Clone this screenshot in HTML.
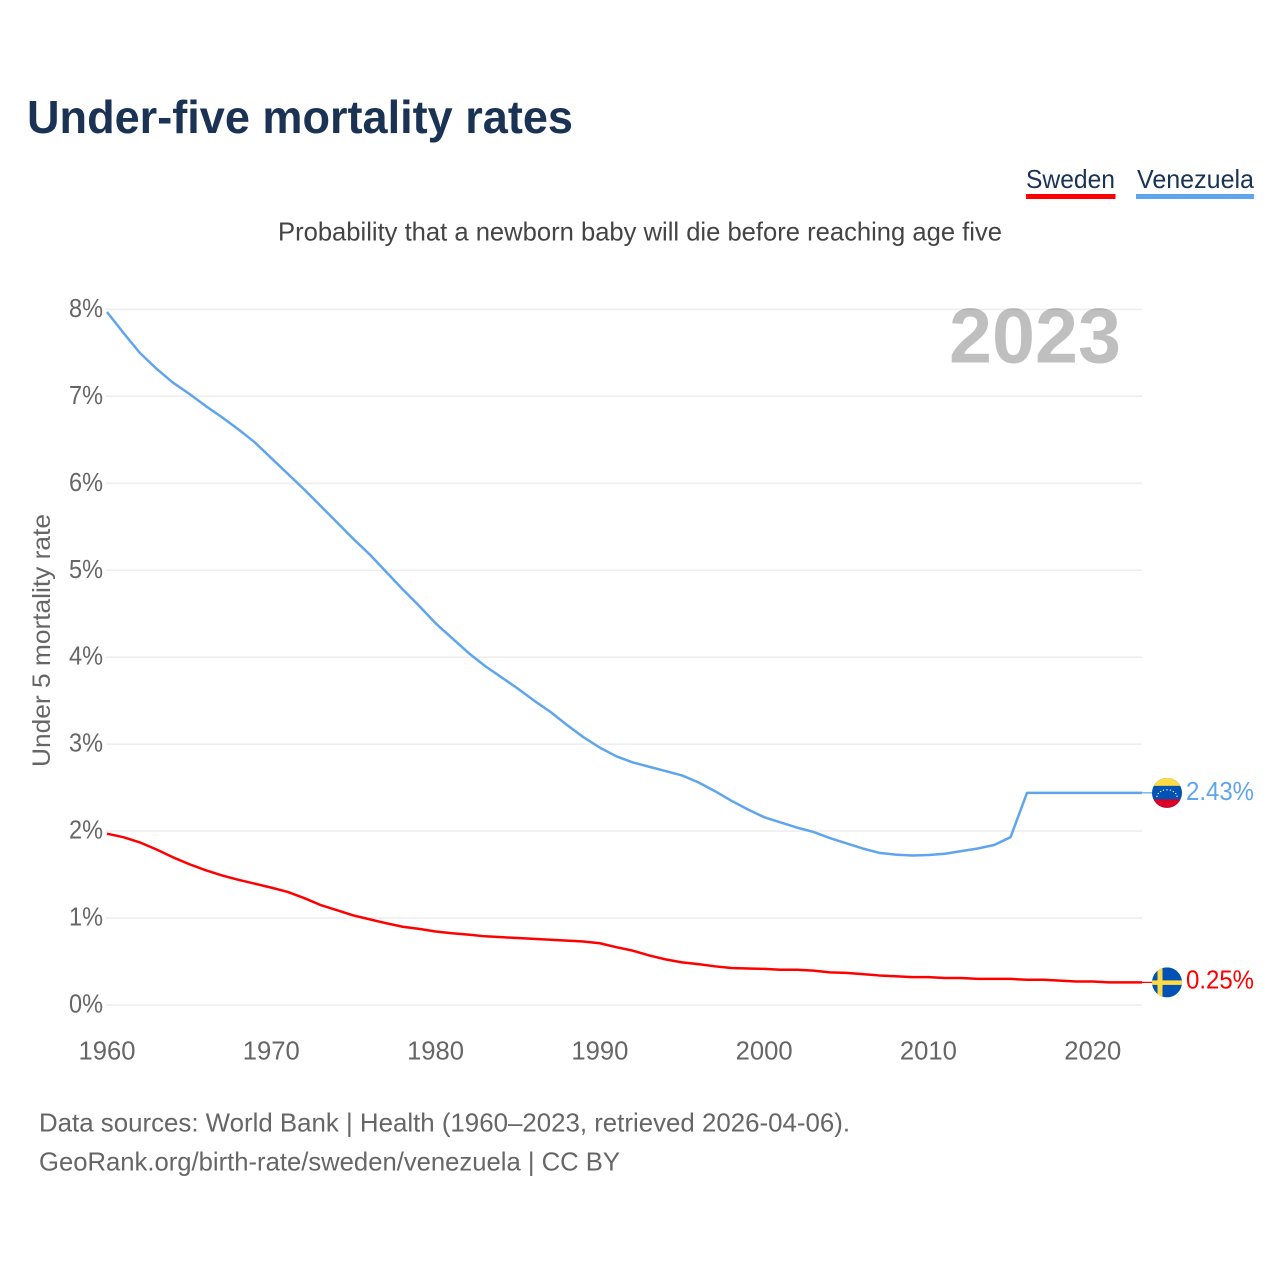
<!DOCTYPE html>
<html lang="en">
<head>
<meta charset="utf-8">
<title>Under-five mortality rates</title>
<style>
html,body{margin:0;padding:0;background:#fff;}
svg{display:block;font-family:"Liberation Sans",sans-serif;}
</style>
</head>
<body>
<svg id="chart" xmlns="http://www.w3.org/2000/svg" width="1280" height="1280" viewBox="0 0 1280 1280">
  <rect x="0" y="0" width="1280" height="1280" fill="#fff"/>
  <defs>
    <clipPath id="flag-clip-ve"><circle cx="0" cy="0" r="15"/></clipPath>
    <clipPath id="flag-clip-se"><circle cx="0" cy="0" r="15"/></clipPath>
  </defs>
  <text x="27" y="133" font-size="46" font-weight="700" fill="#1a3354" textLength="546" lengthAdjust="spacingAndGlyphs">Under-five mortality rates</text>

  <g>
    <text x="1026" y="188" font-size="26" fill="#1a3354" textLength="89" lengthAdjust="spacingAndGlyphs">Sweden</text>
    <rect x="1026" y="194" width="89.5" height="5" fill="#ff0000"/>
  </g>
  <g>
    <text x="1137" y="188" font-size="26" fill="#1a3354" textLength="117" lengthAdjust="spacingAndGlyphs">Venezuela</text>
    <rect x="1136" y="194" width="118" height="5" fill="#5fa5ee"/>
  </g>

  <text x="278" y="240.5" font-size="26" fill="#444" textLength="724" lengthAdjust="spacingAndGlyphs">Probability that a newborn baby will die before reaching age five</text>

  <g id="grid"></g>
  <g id="yticks"></g>
  <g id="xticks"></g>

  <text x="949" y="362.5" font-size="78" font-weight="700" fill="#000" fill-opacity="0.25" textLength="172" lengthAdjust="spacingAndGlyphs">2023</text>

  <text transform="translate(50,767) rotate(-90)" x="0" y="0" font-size="25" fill="#666" textLength="253" lengthAdjust="spacingAndGlyphs">Under 5 mortality rate</text>

  <g id="series"></g>

  <g id="flag-ve">
    <g clip-path="url(#flag-clip-ve)">
      <rect x="-15" y="-15" width="30" height="30" fill="#0052b4"/>
      <rect x="-15" y="-15" width="30" height="8" fill="#ffda44"/>
      <rect x="-15" y="6.5" width="30" height="9" fill="#d80027"/>
      <g fill="#f0f0f0">
        <circle cx="-10" cy="3.5" r=".7"/><circle cx="-8.7" cy="0.7" r=".7"/><circle cx="-6.4" cy="-1.3" r=".7"/>
        <circle cx="-3.5" cy="-2.7" r=".7"/><circle cx="0" cy="-3" r=".7"/><circle cx="3.5" cy="-2.7" r=".7"/>
        <circle cx="6.4" cy="-1.3" r=".7"/><circle cx="8.7" cy="0.7" r=".7"/><circle cx="10" cy="3.5" r=".7"/>
      </g>
    </g>
  </g>
  <g id="flag-se">
    <g clip-path="url(#flag-clip-se)">
      <rect x="-15" y="-15" width="30" height="30" fill="#0052b4"/>
      <rect x="-9.5" y="-15" width="5" height="30" fill="#ffda44"/>
      <rect x="-15" y="-2" width="30" height="4.5" fill="#ffda44"/>
    </g>
  </g>

  <g id="endlabels"></g>

  <text x="39" y="1131.5" font-size="26" fill="#666" textLength="811" lengthAdjust="spacingAndGlyphs">Data sources: World Bank | Health (1960–2023, retrieved 2026-04-06).</text>
  <text x="39" y="1170.5" font-size="26" fill="#666" textLength="581" lengthAdjust="spacingAndGlyphs">GeoRank.org/birth-rate/sweden/venezuela | CC BY</text>
</svg>

<script>
const years = [1960,1961,1962,1963,1964,1965,1966,1967,1968,1969,1970,1971,1972,1973,1974,1975,1976,1977,1978,1979,1980,1981,1982,1983,1984,1985,1986,1987,1988,1989,1990,1991,1992,1993,1994,1995,1996,1997,1998,1999,2000,2001,2002,2003,2004,2005,2006,2007,2008,2009,2010,2011,2012,2013,2014,2015,2016,2017,2018,2019,2020,2021,2022,2023];
const venezuela = [7.97,7.73,7.50,7.32,7.16,7.03,6.89,6.76,6.62,6.47,6.29,6.11,5.93,5.74,5.55,5.36,5.18,4.98,4.78,4.59,4.39,4.22,4.05,3.90,3.77,3.64,3.50,3.37,3.22,3.08,2.96,2.86,2.79,2.74,2.69,2.64,2.56,2.46,2.35,2.25,2.16,2.10,2.04,1.99,1.92,1.86,1.80,1.75,1.73,1.72,1.725,1.74,1.77,1.80,1.84,1.93,2.44,2.44,2.44,2.44,2.44,2.44,2.44,2.44];
const sweden = [1.97,1.93,1.87,1.79,1.70,1.62,1.55,1.49,1.44,1.395,1.35,1.30,1.23,1.15,1.09,1.03,0.985,0.94,0.90,0.875,0.845,0.825,0.81,0.79,0.78,0.77,0.76,0.75,0.74,0.73,0.71,0.665,0.625,0.57,0.525,0.49,0.47,0.445,0.425,0.42,0.415,0.405,0.405,0.395,0.375,0.37,0.355,0.34,0.33,0.32,0.32,0.31,0.31,0.30,0.30,0.30,0.29,0.29,0.28,0.27,0.27,0.26,0.26,0.26];
const yTickValues = [0,1,2,3,4,5,6,7,8];
const xTickValues = [1960,1970,1980,1990,2000,2010,2020];
const endLabelVenezuela = "2.43%";
const endLabelSweden = "0.25%";

const NS = "http://www.w3.org/2000/svg";
function xScale(year){ return 107 + (year - 1960) * (1142 - 107) / (2023 - 1960); }
function yScale(value){ return 1005 - value * (1005 - 309.4) / 8; }
function make(tag, attrs, parent, content){
  const el = document.createElementNS(NS, tag);
  for (const k in attrs) el.setAttribute(k, attrs[k]);
  if (content !== undefined) el.textContent = content;
  parent.appendChild(el);
  return el;
}

const grid = document.getElementById("grid");
const yticks = document.getElementById("yticks");
yTickValues.forEach(function(v){
  const line = make("line", {x1:106, x2:1142, y1:yScale(v), y2:yScale(v), stroke:"#eeeeee", "stroke-width":1.6}, grid);
  
  
  const label = make("text", {x:103, y:yScale(v)+7.5, "font-size":26, fill:"#666", "text-anchor":"end", textLength:34, lengthAdjust:"spacingAndGlyphs"}, yticks, v + "%");
  
  
});

const xticks = document.getElementById("xticks");
xTickValues.forEach(function(y){
  const label = make("text", {x:xScale(y), y:1059.5, "font-size":26, fill:"#666", "text-anchor":"middle", textLength:57, lengthAdjust:"spacingAndGlyphs"}, xticks, String(y));
  
  
});

function pointsFor(values){
  return values.map(function(v, i){ return xScale(years[i]).toFixed(2) + "," + yScale(v).toFixed(2); }).join(" ");
}
const seriesGroup = document.getElementById("series");
const lastX = xScale(years[years.length - 1]);
const veY = yScale(venezuela[venezuela.length - 1]);
const seY = yScale(sweden[sweden.length - 1]);

const venLine = make("polyline", {points:pointsFor(venezuela), fill:"none", stroke:"#5fa5ee", "stroke-width":2.5, "stroke-linejoin":"round"}, seriesGroup);


const sweLine = make("polyline", {points:pointsFor(sweden), fill:"none", stroke:"#ff0000", "stroke-width":2.5, "stroke-linejoin":"round"}, seriesGroup);



const venLead = make("line", {x1:lastX, x2:lastX+10, y1:veY, y2:veY, stroke:"#5fa5ee", "stroke-width":1.2}, seriesGroup);


const sweLead = make("line", {x1:lastX, x2:lastX+10, y1:seY, y2:seY, stroke:"#ff0000", "stroke-width":1.2}, seriesGroup);



document.getElementById("flag-ve").setAttribute("transform", "translate(1167," + veY + ")");
document.getElementById("flag-se").setAttribute("transform", "translate(1167," + seY + ")");

const endGroup = document.getElementById("endlabels");
const venEnd = make("text", {x:1186, y:veY+7, "font-size":26, fill:"#5fa5ee", textLength:68, lengthAdjust:"spacingAndGlyphs"}, endGroup, endLabelVenezuela);


const sweEnd = make("text", {x:1186, y:seY+6.3, "font-size":26, fill:"#ff0000", textLength:68, lengthAdjust:"spacingAndGlyphs"}, endGroup, endLabelSweden);


</script>
</body>
</html>
